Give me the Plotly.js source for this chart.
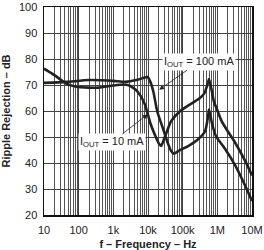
<!DOCTYPE html>
<html><head><meta charset="utf-8">
<script src="https://cdn.plot.ly/plotly-3.0.1.min.js"></script>
<style>html,body{margin:0;padding:0;background:#fff}#c{width:264px;height:250px}</style>
</head><body><div id="c"></div>
<script>
// 10 mA series
const freq10 = [10, 20, 44, 85, 200, 378, 1000, 1900, 2640, 3660, 5040, 7950, 11700, 16300, 21000, 24000, 29000, 40300, 46000, 82000, 130000, 301000, 417000, 506000, 576000, 700000, 800000, 1030000, 1340000, 1980000, 3300000, 6300000, 10000000];
const rr10   = [76.3, 73.8, 70.5, 69.3, 69.0, 69.0, 69.8, 70.2, 70.0, 69.0, 67.4, 62.9, 55.3, 50.4, 47.3, 46.6, 49.2, 54.2, 56.0, 59.8, 61.7, 64.8, 66.7, 69.7, 72.3, 67.4, 63.6, 59.8, 56.0, 52.3, 47.7, 40.9, 35.2];
// 100 mA series
const freq100 = [10, 44, 200, 1000, 2180, 5040, 9670, 11700, 14300, 18500, 25600, 35400, 46000, 55700, 77000, 148000, 284000, 445000, 540000, 576000, 700000, 908000, 1740000, 3300000, 6300000, 10000000];
const rr100   = [70.8, 71.2, 71.9, 71.6, 71.2, 72.0, 73.1, 71.2, 67.4, 59.8, 54.2, 48.5, 44.7, 43.6, 44.7, 46.6, 49.2, 52.3, 58.0, 60.6, 55.3, 50.4, 45.1, 39.0, 31.4, 25.4];

const decades = [10, 100, 1000, 10000, 100000, 1000000, 10000000];
const decadeLabels = ['10', '100', '1k', '10k', '100k', '1M', '10M'];
const yTicks = [20, 30, 40, 50, 60, 70, 80, 90, 100];

const minorX = [];
decades.slice(0, -1).forEach(d => { for (let m = 2; m <= 9; m++) minorX.push(d * m); });

const lineStyle = {color: '#222', width: 2.6, shape: 'spline', smoothing: 0.6};
const data = [
  {x: freq10, y: rr10, mode: 'lines', line: lineStyle, name: '10 mA', hoverinfo: 'none'},
  {x: freq100, y: rr100, mode: 'lines', line: lineStyle, name: '100 mA', hoverinfo: 'none'}
];
const F = 'Liberation Sans, Arial, sans-serif';
const layout = {
  width: 264, height: 250,
  margin: {l: 44, r: 12, t: 7, b: 35},
  paper_bgcolor: '#fff', plot_bgcolor: '#fff',
  showlegend: false,
  font: {family: F, size: 11, color: '#222'},
  xaxis: {
    type: 'log', range: [1, 7], tickvals: decades, ticktext: decadeLabels,
    showgrid: true, gridcolor: '#444', gridwidth: 1,
    minor: {tickvals: minorX, showgrid: true, gridcolor: '#555', gridwidth: 1, ticks: ''},
    showline: true, mirror: true, linecolor: '#111', linewidth: 1.5,
    ticks: '', zeroline: false, ticklabelstandoff: 4, ticklabeloverflow: 'allow',
    title: {text: '<b>f – Frequency – Hz</b>', font: {family: F, size: 11}, standoff: 6}
  },
  yaxis: {
    range: [20, 100], tickvals: yTicks,
    showgrid: true, gridcolor: '#444', gridwidth: 1,
    showline: true, mirror: true, linecolor: '#111', linewidth: 1.5,
    ticks: '', zeroline: false, ticklabelstandoff: 3, ticklabeloverflow: 'allow',
    title: {text: '<b>Ripple Rejection – dB</b>', font: {family: F, size: 11}, standoff: 6}
  },
  annotations: [
    {x: Math.log10(21100), y: 68.2, xref: 'x', yref: 'y', text: 'I<sub>OUT</sub> = 100 mA',
     showarrow: true, arrowhead: 2, arrowsize: 1.2, arrowwidth: 0.8, arrowcolor: '#222',
     ax: 40, ay: -28, bgcolor: '#fff', font: {family: F, size: 11, color: '#222'}},
    {x: Math.log10(9700), y: 58.7, xref: 'x', yref: 'y', text: 'I<sub>OUT</sub> = 10 mA',
     showarrow: true, arrowhead: 2, arrowsize: 1.2, arrowwidth: 0.8, arrowcolor: '#222',
     ax: -36, ay: 28, bgcolor: '#fff', font: {family: F, size: 11, color: '#222'}}
  ]
};
Plotly.newPlot('c', data, layout, {staticPlot: true});
</script></body></html>
